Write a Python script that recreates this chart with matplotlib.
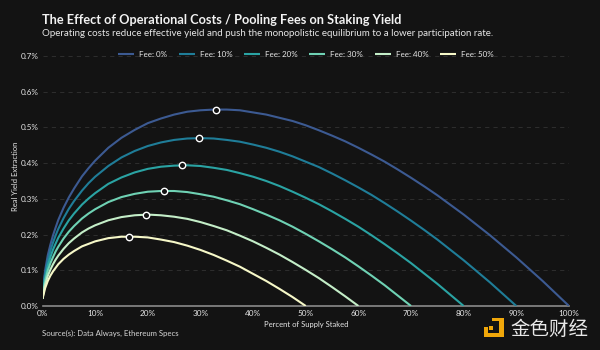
import matplotlib
matplotlib.use('Agg')
import matplotlib.pyplot as plt
from matplotlib.patches import Polygon, Rectangle

# values
fees = ['Fee: 0%', 'Fee: 10%', 'Fee: 20%', 'Fee: 30%', 'Fee: 40%', 'Fee: 50%']
colors = ['#3c5a92', '#1f7d98', '#2aa3a3', '#6fd2b4', '#c4eec8', '#f6f8c8']

staked = [0, 0.2, 0.5, 1, 1.5, 2, 2.5, 3, 4, 5, 6, 7.5, 8.75, 10, 12.5, 15, 17.5, 20, 22.5, 25, 27.5,
          30, 32.5, 35, 37.5, 40, 42.5, 45, 47.5, 50, 52.5, 55, 57.5, 60, 62.5, 65, 67.5, 70, 72.5, 75,
          77.5, 80, 82.5, 85, 87.5, 90, 92.5, 95, 97.5, 100]
fee_0 = [0.02, 0.064, 0.100, 0.142, 0.172, 0.198, 0.220, 0.241, 0.275, 0.304, 0.329, 0.363, 0.386, 0.407,
         0.443, 0.471, 0.493, 0.512, 0.525, 0.536, 0.544, 0.548, 0.550, 0.550, 0.548, 0.542, 0.536, 0.527,
         0.518, 0.506, 0.492, 0.477, 0.461, 0.443, 0.424, 0.404, 0.382, 0.359, 0.335, 0.310, 0.283, 0.256,
         0.227, 0.198, 0.167, 0.136, 0.103, 0.070, 0.035, 0]
fee_10 = [0.02, 0.057, 0.090, 0.127, 0.155, 0.178, 0.198, 0.216, 0.246, 0.272, 0.294, 0.323, 0.344, 0.362,
          0.392, 0.416, 0.434, 0.448, 0.458, 0.465, 0.469, 0.470, 0.469, 0.465, 0.460, 0.452, 0.443, 0.432,
          0.419, 0.404, 0.389, 0.371, 0.352, 0.332, 0.311, 0.288, 0.264, 0.239, 0.213, 0.186, 0.157, 0.128,
          0.097, 0.066, 0.033, 0]
fee_20 = [0.02, 0.051, 0.080, 0.113, 0.137, 0.158, 0.175, 0.191, 0.217, 0.240, 0.259, 0.284, 0.301, 0.316,
          0.342, 0.360, 0.374, 0.384, 0.390, 0.393, 0.394, 0.392, 0.387, 0.381, 0.372, 0.362, 0.350, 0.336,
          0.320, 0.303, 0.285, 0.265, 0.244, 0.222, 0.198, 0.173, 0.147, 0.120, 0.091, 0.062, 0.031, 0]
fee_30 = [0.02, 0.045, 0.070, 0.099, 0.120, 0.137, 0.153, 0.166, 0.189, 0.208, 0.224, 0.245, 0.259, 0.271,
          0.291, 0.305, 0.314, 0.320, 0.322, 0.322, 0.319, 0.313, 0.306, 0.296, 0.285, 0.271, 0.256, 0.240,
          0.222, 0.202, 0.181, 0.159, 0.136, 0.111, 0.085, 0.058, 0.029, 0]
fee_40 = [0.02, 0.038, 0.060, 0.084, 0.102, 0.117, 0.130, 0.141, 0.160, 0.176, 0.189, 0.206, 0.217, 0.226,
          0.240, 0.249, 0.254, 0.256, 0.254, 0.250, 0.244, 0.235, 0.224, 0.212, 0.197, 0.181, 0.163, 0.144,
          0.123, 0.101, 0.078, 0.053, 0.027, 0]
fee_50 = [0.02, 0.032, 0.050, 0.070, 0.085, 0.097, 0.107, 0.117, 0.132, 0.144, 0.154, 0.167, 0.174, 0.181,
          0.190, 0.194, 0.194, 0.192, 0.186, 0.179, 0.169, 0.157, 0.143, 0.127, 0.110, 0.090, 0.070, 0.048,
          0.025, 0]
series = [fee_0, fee_10, fee_20, fee_30, fee_40, fee_50]

peak_x = [33, 29.7, 26.5, 23.1, 19.7, 16.4]
peak_y = [0.550, 0.470, 0.394, 0.323, 0.256, 0.194]

bg = '#131313'
plt.rcParams['font.family'] = ['Lato', 'DejaVu Sans']

fig = plt.figure(figsize=(6, 3.5), dpi=100, facecolor=bg)
ax = fig.add_axes([42.5 / 600, 44 / 350, 526.5 / 600, 250 / 350], facecolor=bg)

for name, vals, c in zip(fees, series, colors):
    ax.plot(staked[:len(vals)], vals, color=c, lw=1.5, label=name, zorder=3, solid_capstyle='butt')
ax.plot(peak_x, peak_y, 'o', ms=4.6, mfc=bg, mec='white', mew=1, zorder=4, clip_on=False)

ax.set_xlim(0, 100)
ax.set_ylim(0, 0.7)
ax.set_xticks(range(0, 101, 10))
ax.set_xticklabels(['%d%%' % v for v in range(0, 101, 10)])
ax.set_yticks([i / 10 for i in range(8)])
ax.set_yticklabels(['%.1f%%' % (i / 10) for i in range(8)])
ax.tick_params(length=0, labelsize=5.9, colors='#e6e6e6', pad=3)
ax.grid(axis='y', color='#333333', lw=0.6, ls=(0, (5, 5)))
ax.set_axisbelow(True)
for s in ['top', 'right', 'left']:
    ax.spines[s].set_visible(False)
ax.spines['bottom'].set_color('#8a8a8a')
ax.spines['bottom'].set_linewidth(1.2)

ax.set_xlabel('Percent of Supply Staked', fontsize=5.5, color='#e6e6e6', labelpad=2.5)
ax.set_ylabel('Real Yield Extraction', fontsize=5.5, color='#e6e6e6', labelpad=1.2, y=0.52)

leg = ax.legend(loc='upper center', bbox_to_anchor=(0.5, 1.036), ncol=6, frameon=False,
                fontsize=5.8, labelcolor='#e6e6e6', handlelength=2, columnspacing=1.45,
                handletextpad=0.6, borderpad=0)

fig.text(42 / 600, 1 - 20 / 350, 'The Effect of Operational Costs / Pooling Fees on Staking Yield',
         fontsize=9.15, fontweight='bold', color='#f2f2f2', va='center')
fig.text(42 / 600, 1 - 33 / 350,
         'Operating costs reduce effective yield and push the monopolistic equilibrium to a lower participation rate.',
         fontsize=7.0, color='#e6e6e6', va='center')
fig.text(42 / 600, 1 - 333.5 / 350, 'Source(s): Data Always, Ethereum Specs', fontsize=5.6,
         color='#d8d8d8', va='center')

# watermark
gold = '#f0a70a'
fig.add_artist(Polygon([(492 / 600, 1 - 318 / 350), (504 / 600, 1 - 318 / 350), (504 / 600, 1 - 337 / 350),
                        (484 / 600, 1 - 337 / 350), (484 / 600, 1 - 327 / 350), (488 / 600, 1 - 327 / 350),
                        (488 / 600, 1 - 333 / 350), (499 / 600, 1 - 333 / 350), (499 / 600, 1 - 321 / 350),
                        (492 / 600, 1 - 321 / 350)],
                       closed=True, transform=fig.transFigure, color=gold, lw=0))
fig.add_artist(Rectangle((489 / 600, 1 - 330 / 350), 4 / 600, 4 / 350, transform=fig.transFigure, color=gold, lw=0))
fig.text(510 / 600, 1 - 329.5 / 350, '金色财经', fontsize=14, color='#e8e8e8', va='center',
         family=['Noto Sans CJK SC', 'DejaVu Sans'])

fig.savefig('out.png', dpi=100, facecolor=bg)
